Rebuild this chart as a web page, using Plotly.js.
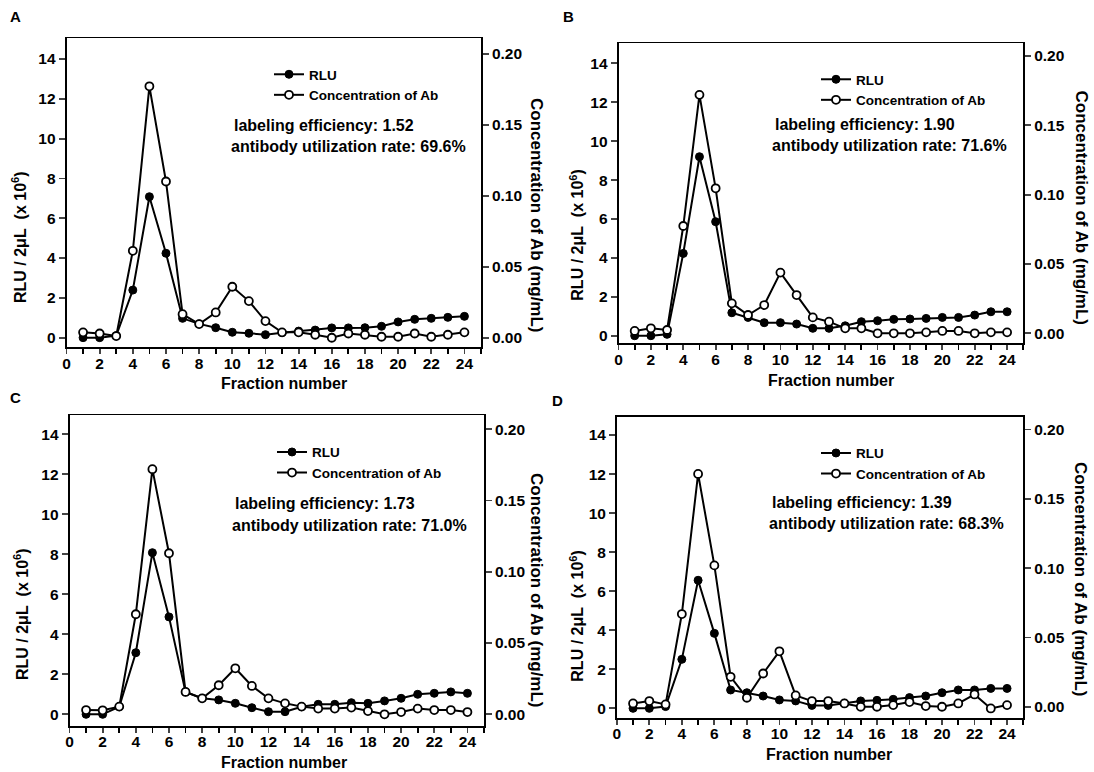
<!DOCTYPE html>
<html><head><meta charset="utf-8">
<script src="https://cdn.plot.ly/plotly-3.0.1.min.js"></script>
<style>body{margin:0;background:#fff}#chart{width:1094px;height:772px}</style>
</head><body><div id="chart"></div>
<script>
// ---------------- data ----------------
const fractions = [1,2,3,4,5,6,7,8,9,10,11,12,13,14,15,16,17,18,19,20,21,22,23,24];

const rluA  = [0,0,0.1,2.39,7.08,4.24,0.97,0.69,0.5,0.27,0.22,0.15,0.25,0.33,0.38,0.49,0.49,0.5,0.57,0.79,0.92,0.97,1.02,1.07];
const concA = [0.0038,0.003,0.0012,0.0612,0.177,0.110,0.0166,0.0096,0.0178,0.0359,0.0258,0.0117,0.0038,0.0038,0.0021,0.0,0.003,0.0021,0.0007,0.0007,0.003,0.0007,0.0021,0.0038];

const rluB  = [0,0,0.07,4.23,9.2,5.86,1.18,0.94,0.67,0.67,0.6,0.38,0.38,0.51,0.72,0.77,0.84,0.86,0.89,0.94,0.94,1.06,1.23,1.23];
const concB = [0.0017,0.0036,0.0024,0.0774,0.172,0.1046,0.0216,0.0132,0.0204,0.0438,0.0276,0.0115,0.0084,0.0036,0.0036,0,0,0,0.0007,0.0017,0.0017,0,0.0007,0.0007];

const rluC  = [0,0,0.38,3.08,8.08,4.87,1.12,0.8,0.72,0.55,0.33,0.13,0.13,0.38,0.5,0.5,0.58,0.55,0.67,0.8,1.0,1.05,1.12,1.05];
const concC = [0.003,0.0028,0.0054,0.0702,0.172,0.113,0.0157,0.0112,0.0204,0.0323,0.0199,0.0112,0.0077,0.0054,0.004,0.004,0.0047,0.0023,0,0.0016,0.004,0.003,0.003,0.0016];

const rluD  = [0,0,0.09,2.51,6.56,3.84,0.94,0.8,0.63,0.43,0.38,0.15,0.15,0.26,0.38,0.41,0.46,0.55,0.63,0.8,0.94,0.94,1.02,1.02];
const concD = [0.0024,0.0041,0.0017,0.0669,0.168,0.102,0.0216,0.0065,0.024,0.040,0.0082,0.0041,0.0041,0.0024,0,0,0.0012,0.0034,0.0005,0,0.0024,0.0089,-0.0012,0.0012];

const panelLetters     = ['A','B','C','D'];
const efficiencies     = ['1.52','1.90','1.73','1.39'];
const utilizationRates = ['69.6%','71.6%','71.0%','68.3%'];
const seriesNames      = ['RLU','Concentration of Ab'];
const xTickVals        = [0,2,4,6,8,10,12,14,16,18,20,22,24];
const yLeftTickVals    = [0,2,4,6,8,10,12,14];
const yRightTickVals   = [0,0.05,0.10,0.15,0.20];
const xTitle     = 'Fraction number';
const yLeftTitle = 'RLU / 2\u03bcL\u00a0\u00a0(x 10<sup>6</sup>)';
const yRightTitle= 'Concentration of Ab (mg/mL)';

const rluSeries  = [rluA, rluB, rluC, rluD];
const concSeries = [concA, concB, concC, concD];

// ---------------- layout geometry (pixels) ----------------
const W = 1094, H = 772;
const geom = [
  {box:[66.5,481,38.3,347.4],  yl:[-0.49,15.04], yr:[-0.0068,0.2108],
   letter:[15.7,16.7], eff1:[232,125], eff2:[228.5,146.7], lt:[19,237], rt:[537,215], xt:[284,383.5], leg:[269,59]},
  {box:[618.5,1023.3,43.3,343.3], yl:[-0.39,15.03], yr:[-0.0072,0.2092],
   letter:[568.6,16.7], eff1:[773,124], eff2:[769.6,145.7], lt:[576.7,235], rt:[1081,207.5], xt:[830.5,380], leg:[816,64]},
  {box:[69.5,484,415.3,726], yl:[-0.585,14.95], yr:[-0.0082,0.2098],
   letter:[15,397.7], eff1:[233,503.3], eff2:[230.3,525], lt:[21,614], rt:[537,590], xt:[283.5,762.7], leg:[272,436.7]},
  {box:[616.8,1023.3,416.7,717.7], yl:[-0.48,14.94], yr:[-0.0079,0.2093],
   letter:[557.5,401], eff1:[770.3,502], eff2:[766.8,523.3], lt:[576.7,616], rt:[1081,579], xt:[828.8,754.3], leg:[816,437.7]}
];

const FONT = 'Liberation Sans, Arial, Helvetica, sans-serif';
const TICKFONT = {family: FONT, size: 15.5, color: '#000', weight: 'bold'};
const px = x => x / W;
const py = y => 1 - y / H;

const traces = [];
const layout = {
  width: W, height: H,
  margin: {l:0, r:0, t:0, b:0},
  paper_bgcolor: '#fff', plot_bgcolor: 'rgba(0,0,0,0)',
  showlegend: true,
  font: {family: FONT, color: '#000', size: 15, weight: 'bold'},
  annotations: []
};

geom.forEach((g, i) => {
  const n = i + 1;
  const xa = 'xaxis' + (n === 1 ? '' : n);
  const yl = 'yaxis' + (n === 1 ? '' : n);
  const yrN = n + 4;
  const yr = 'yaxis' + yrN;
  const xRef = 'x' + (n === 1 ? '' : n);
  const ylRef = 'y' + (n === 1 ? '' : n);
  const yrRef = 'y' + yrN;
  const legName = 'legend' + (n === 1 ? '' : n);

  layout[xa] = {
    domain: [px(g.box[0]), px(g.box[1])], anchor: ylRef,
    range: [0, 25], tickvals: xTickVals, ticks: 'outside', ticklen: 5, tickwidth: 1.8,
    ticklabelstandoff: -4,
    minor: {dtick: 1, tick0: 1, ticks: 'outside', ticklen: 5, tickwidth: 1.8, tickcolor: '#000', showgrid: false},
    showline: true, linewidth: 1.8, linecolor: '#000', mirror: true,
    showgrid: false, zeroline: false, fixedrange: true,
    tickfont: TICKFONT
  };
  layout[yl] = {
    domain: [py(g.box[3]), py(g.box[2])], anchor: xRef,
    range: g.yl, tickvals: yLeftTickVals, ticks: 'outside', ticklen: 6, tickwidth: 1.8,
    showline: true, linewidth: 1.8, linecolor: '#000',
    showgrid: false, zeroline: false, fixedrange: true,
    tickfont: TICKFONT
  };
  layout[yr] = {
    overlaying: ylRef, side: 'right', anchor: xRef,
    range: g.yr, tickvals: yRightTickVals, tickformat: '.2f', ticks: 'outside', ticklen: 6, tickwidth: 1.8,
    showline: true, linewidth: 1.8, linecolor: '#000',
    showgrid: false, zeroline: false, fixedrange: true,
    tickfont: TICKFONT
  };
  layout[legName] = {
    x: px(g.leg[0]), y: py(g.leg[1]), xanchor: 'left', yanchor: 'top',
    bgcolor: 'rgba(0,0,0,0)', borderwidth: 0, tracegroupgap: 0, itemwidth: 30,
    font: {family: FONT, size: 13.5, color: '#000', weight: 'bold'}
  };

  traces.push({
    x: fractions, y: rluSeries[i], xaxis: xRef, yaxis: ylRef,
    name: seriesNames[0], legend: legName, type: 'scatter', mode: 'lines+markers',
    line: {color: '#000', width: 2},
    marker: {symbol: 'circle', size: 8, color: '#000', line: {color: '#000', width: 1}},
    cliponaxis: false
  });
  traces.push({
    x: fractions, y: concSeries[i], xaxis: xRef, yaxis: yrRef,
    name: seriesNames[1], legend: legName, type: 'scatter', mode: 'lines+markers',
    line: {color: '#000', width: 2},
    marker: {symbol: 'circle', size: 8, color: '#fff', line: {color: '#000', width: 1.8}},
    cliponaxis: false
  });

  const A = layout.annotations;
  const base = {xref: 'paper', yref: 'paper', showarrow: false, font: {family: FONT, color: '#000', weight: 'bold', size: 16}};
  A.push(Object.assign({}, base, {x: px(g.letter[0]), y: py(g.letter[1]), text: panelLetters[i], xanchor: 'center', yanchor: 'middle', font: {family: FONT, color:'#000', weight:'bold', size: 15}}));
  A.push(Object.assign({}, base, {x: px(g.eff1[0]), y: py(g.eff1[1]), text: 'labeling efficiency: ' + efficiencies[i], xanchor: 'left', yanchor: 'middle'}));
  A.push(Object.assign({}, base, {x: px(g.eff2[0]), y: py(g.eff2[1]), text: 'antibody utilization rate: ' + utilizationRates[i], xanchor: 'left', yanchor: 'middle'}));
  A.push(Object.assign({}, base, {x: px(g.lt[0]), y: py(g.lt[1]), text: yLeftTitle, textangle: -90, xanchor: 'center', yanchor: 'middle'}));
  A.push(Object.assign({}, base, {x: px(g.rt[0]), y: py(g.rt[1]), text: yRightTitle, textangle: 90, xanchor: 'center', yanchor: 'middle', font: {family: FONT, color:'#000', weight:'bold', size: 17}}));
  A.push(Object.assign({}, base, {x: px(g.xt[0]), y: py(g.xt[1]), text: xTitle, xanchor: 'center', yanchor: 'middle'}));
});

Plotly.newPlot('chart', traces, layout, {displayModeBar: false, staticPlot: true});
</script>
</body></html>
